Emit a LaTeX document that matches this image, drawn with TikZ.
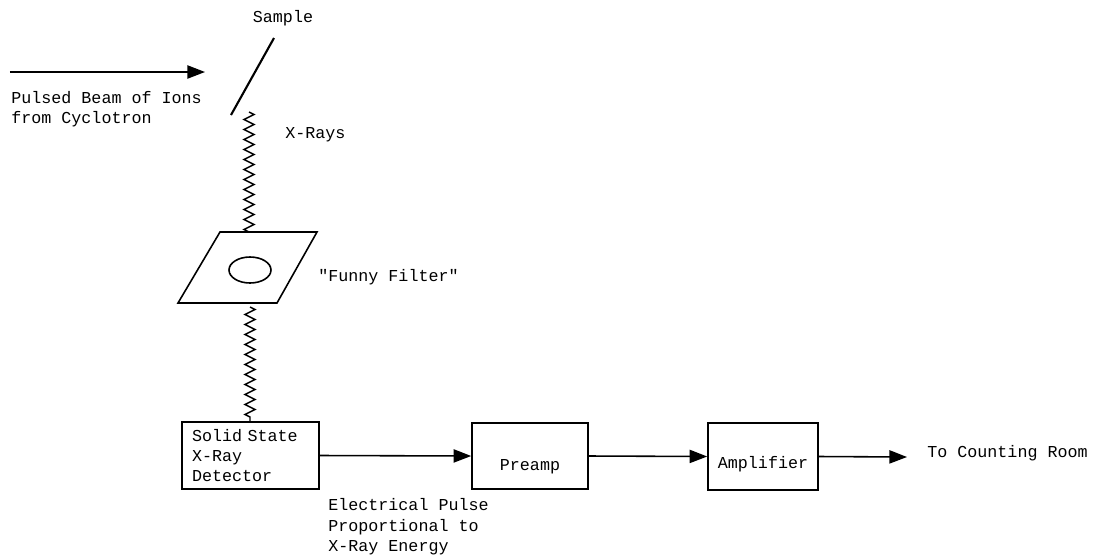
\documentclass[tikz,border=0pt]{standalone}
\usepackage{fontspec}
\setmonofont{Liberation Mono}
\usepackage{tikz}
\usetikzlibrary{arrows.meta, positioning, calc, decorations.pathmorphing}

\begin{document}
\begin{tikzpicture}[
    font=\ttfamily\fontsize{9.5}{11.6}\selectfont,
    block/.style={draw, line width=0.9pt, inner sep=0pt},
    xray/.style={line width=0.8pt, decorate,
      decoration={zigzag, segment length=0.2cm, amplitude=0.1cm}},
    sig/.style={line width=0.9pt, -{Triangle[length=10pt,width=7.5pt]}}
  ]
  \useasboundingbox (0,0) rectangle (22.16,-11.16);

  % Beam and sample
  \coordinate (beamstart) at (0.2,-1.44);
  \coordinate (beamend) at (4.1,-1.44);
  \draw[sig] (beamstart) -- (beamend);
  \node[anchor=west, inner sep=0pt, align=left] (beam) at (0.22,-2.18)
    {Pulsed Beam of Ions\\from Cyclotron};

  \coordinate (S1) at (5.48,-0.76);
  \coordinate (S2) at (4.62,-2.30);
  \draw[line width=1.2pt] (S1) -- (S2);
  \node (sample) at (5.66,-0.36) {Sample};

  % Filter
  \coordinate (F1) at (4.40,-4.64);
  \coordinate (F2) at (6.34,-4.64);
  \coordinate (F3) at (5.54,-6.06);
  \coordinate (F4) at (3.56,-6.06);
  \draw[line width=0.9pt] (F1) -- (F2) -- (F3) -- (F4) -- cycle;
  \draw[line width=0.9pt] (5.0,-5.4) ellipse (0.42 and 0.26);
  \node[anchor=west, inner sep=0pt] (filter) at (6.36,-5.54) {"Funny Filter"};

  % Blocks
  \node[block, minimum width=2.74cm, minimum height=1.34cm,
        text width=2.34cm, align=left] (det) at (5.01,-9.11)
    {Solid State\\X-Ray\\Detector};
  \node[block, minimum width=2.32cm, minimum height=1.32cm,
        text height=0.58cm, text depth=0pt] (pre) at (10.6,-9.12) {Preamp};
  \node[block, minimum width=2.2cm, minimum height=1.34cm,
        text height=0.48cm, text depth=0pt] (amp) at (15.26,-9.13) {Amplifier};
  \coordinate (out) at (18.14,-9.14);

  % X-rays
  \coordinate (X1) at (4.98,-2.24);
  \coordinate (X2) at (4.98,-4.64);
  \coordinate (X3) at (5.0,-6.14);
  \draw[xray] (X1) -- (X2);
  \draw[xray] (X3) -- (det.north -| X3);
  \node[anchor=west, inner sep=0pt] (xrays) at (5.70,-2.70) {X-Rays};

  % Signal chain
  \draw[sig] (det.east) -- (pre.west);
  \draw[sig] (pre.east) -- (amp.west);
  \draw[sig] (amp.east) -- (out);
  \node[anchor=west, inner sep=0pt] (room) at (18.54,-9.06) {To Counting Room};
  \node[anchor=west, inner sep=0pt, align=left] (pulse) at (6.56,-10.54)
    {Electrical Pulse\\Proportional to\\X-Ray Energy};
\end{tikzpicture}
\end{document}
